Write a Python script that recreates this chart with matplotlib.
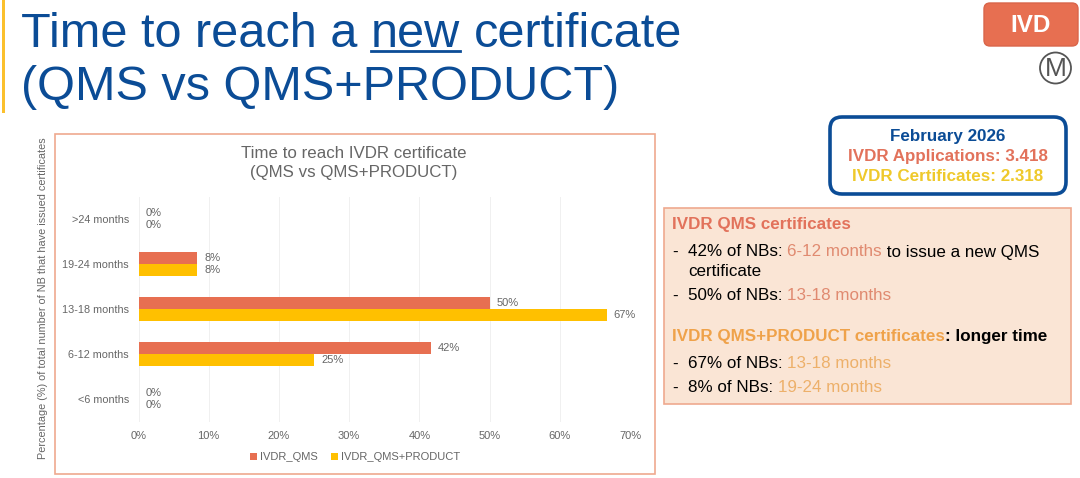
import matplotlib
matplotlib.use("Agg")
import matplotlib.pyplot as plt
from matplotlib.patches import FancyBboxPatch, Rectangle, Circle

plt.rcParams['font.family'] = ['Liberation Sans', 'DejaVu Sans']

categories = ['<6 months', '6-12 months', '13-18 months', '19-24 months', '>24 months']
qms = [0, 41.67, 50, 8.33, 0]
qms_product = [0, 25, 66.67, 8.33, 0]
qms_labels = ['0%', '42%', '50%', '8%', '0%']
product_labels = ['0%', '25%', '67%', '8%', '0%']
x_ticks = [0, 10, 20, 30, 40, 50, 60, 70]

RED = '#E76F51'
YEL = '#FFC000'
BLUE = '#0B4C96'
GREY = '#666666'

W, H = 1080, 478
fig = plt.figure(figsize=(W / 100, H / 100), dpi=100)

# overlay in pixel coordinates for the slide parts
bg = fig.add_axes([0, 0, 1, 1])
bg.set_xlim(0, W)
bg.set_ylim(H, 0)
bg.axis('off')

def run(x, y, parts, size, weight='normal'):
    # draws coloured pieces of text one after another on the same line
    r = fig.canvas.get_renderer()
    for s, c in parts:
        t = bg.text(x, y, s, color=c, fontsize=size, fontweight=weight, va='center', ha='left')
        x = bg.transData.inverted().transform((t.get_window_extent(r).x1, 0))[0]

# slide title
bg.add_patch(Rectangle((1.5, 0), 3, 113, color='#FBC02D', lw=0))
bg.text(21, 46.5, 'Time to reach a', color=BLUE, fontsize=35, va='baseline')
bg.text(371, 46.5, 'new', color=BLUE, fontsize=35, va='baseline')
bg.plot([371, 460], [51, 51], color=BLUE, lw=2)
bg.text(474, 46.5, 'certificate', color=BLUE, fontsize=35, va='baseline')
bg.text(21, 100, '(QMS vs QMS+PRODUCT)', color=BLUE, fontsize=35, va='baseline')

# IVD badge
bg.add_patch(FancyBboxPatch((984, 3), 94, 43, boxstyle='round,pad=0,rounding_size=6', fc=RED, ec='#D9654A', lw=1))
bg.text(1031, 25, 'IVD', color='white', fontsize=17.5, fontweight='bold', ha='center', va='center')
bg.add_patch(Circle((1055.5, 68), 15.5, fc='white', ec='#555555', lw=1.3))
bg.text(1055.5, 68.5, 'M', color='#555555', fontsize=19, ha='center', va='center')

# February box
bg.add_patch(FancyBboxPatch((830, 117), 236, 77, boxstyle='round,pad=0,rounding_size=12', fc='white', ec=BLUE, lw=2.6))
bg.text(948, 136, 'February 2026', color=BLUE, fontsize=12.25, fontweight='bold', ha='center', va='center')
bg.text(948, 156, 'IVDR Applications: 3.418', color='#E2725B', fontsize=12.25, fontweight='bold', ha='center', va='center')
bg.text(948, 176.5, 'IVDR Certificates: 2.318', color='#EFC92B', fontsize=12.25, fontweight='bold', ha='center', va='center')

# notes box
bg.add_patch(Rectangle((663.5, 207.5), 407, 196, fc='#FAE5D5', ec='#EFA98F', lw=1.2))
ORG = '#EFA24A'
SAL2 = '#E08A70'
ORG2 = '#EDB06A'
FS = 12.25
run(672, 224, [('IVDR QMS certificates', '#E2725B')], FS, 'bold')
bg.text(672, 252, '-', fontsize=FS, va='center', color='black')
run(688, 252, [('42% of NBs: ', 'black'), ('6-12 months', SAL2), (' to issue a new QMS', 'black')], FS)
bg.text(688, 272, 'certificate', fontsize=FS, va='center', color='black')
bg.text(672, 296, '-', fontsize=FS, va='center', color='black')
run(688, 296, [('50% of NBs: ', 'black'), ('13-18 months', SAL2)], FS)
run(672, 337, [('IVDR QMS+PRODUCT certificates', ORG), (': longer time', 'black')], FS, 'bold')
bg.text(672, 364, '-', fontsize=FS, va='center', color='black')
run(688, 364, [('67% of NBs: ', 'black'), ('13-18 months', ORG2)], FS)
bg.text(672, 388, '-', fontsize=FS, va='center', color='black')
run(688, 388, [('8% of NBs: ', 'black'), ('19-24 months', ORG2)], FS)

# chart frame
bg.add_patch(Rectangle((54.5, 133.5), 600, 341, fc='white', ec='#EFA98F', lw=1.2))
bg.text(354, 153, 'Time to reach IVDR certificate', color=GREY, fontsize=12.2, ha='center', va='center')
bg.text(354, 173, '(QMS vs QMS+PRODUCT)', color=GREY, fontsize=12.2, ha='center', va='center')
bg.text(43, 298.5, 'Percentage (%) of total number of NB that have issued certificates', color=GREY,
        fontsize=7.8, rotation=90, ha='center', va='center')

# bar chart
left, right, top, bottom = 138.5, 630, 196.5, 421.5
ax = fig.add_axes([left / W, 1 - bottom / H, (right - left) / W, (bottom - top) / H])
ax.patch.set_alpha(0)
ypos = list(range(len(categories)))
h = 0.27
ax.barh([y + h / 2 for y in ypos], qms, h, color=RED, label='IVDR_QMS', zorder=3)
ax.barh([y - h / 2 for y in ypos], qms_product, h, color=YEL, label='IVDR_QMS+PRODUCT', zorder=3)
for y, v, l in zip(ypos, qms, qms_labels):
    ax.text(v + 1, y + h / 2, l, color=GREY, fontsize=8, va='center')
for y, v, l in zip(ypos, qms_product, product_labels):
    ax.text(v + 1, y - h / 2, l, color=GREY, fontsize=8, va='center')
ax.set_xlim(0, 70)
ax.set_ylim(-0.5, 4.5)
ax.set_yticks(ypos)
ax.set_yticklabels(categories, color=GREY, fontsize=7.8)
ax.set_xticks(x_ticks)
ax.set_xticklabels([f'{v}%' for v in x_ticks], color=GREY, fontsize=8)
ax.tick_params(axis='y', length=0, pad=7)
ax.tick_params(axis='x', length=0, pad=7)
ax.grid(axis='x', color='#F0F0F0', lw=0.7, zorder=0)
for s in ax.spines.values():
    s.set_visible(False)
ax.legend(loc='center', bbox_to_anchor=(355 / W, 1 - 457.5 / H), bbox_transform=fig.transFigure, ncol=2, frameon=False,
          fontsize=8, labelcolor=GREY, handlelength=0.6, handleheight=0.6, handletextpad=0.3, columnspacing=1.2)

fig.savefig('out.png', dpi=100)
